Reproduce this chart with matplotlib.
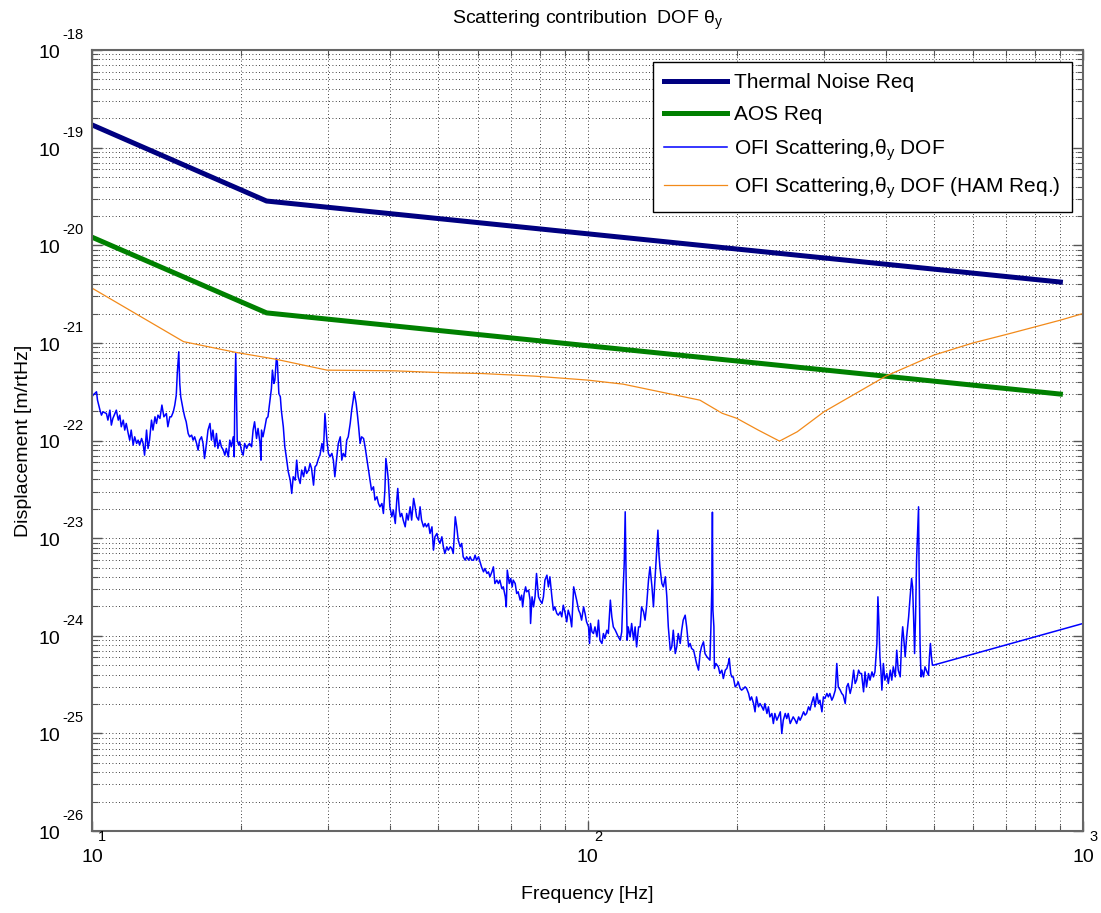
import numpy as np
import matplotlib
matplotlib.use("Agg")
import matplotlib.pyplot as plt
from matplotlib.ticker import LogLocator, NullFormatter

plt.rcParams["font.family"] = ["Liberation Sans", "DejaVu Sans"]

# requirement curves, frequency in Hz, displacement in m/rtHz
req_freq = [10.0, 22.5, 900.0]
thermal_req = [1.71e-19, 2.84e-20, 4.20e-21]
aos_req = [1.21e-20, 2.03e-21, 2.99e-22]

# OFI scattering with the HAM table requirement
ham_freq = [10.0, 15.3, 19.5, 23.5, 29.8, 40.6, 51.6, 61.0, 78.0, 100.0,
            118.0, 145.0, 168.6, 187.0, 200.0, 221.0, 244.0, 265.0, 300.0,
            400.0, 500.0, 600.0, 700.0, 800.0, 900.0, 1000.0]
ham_req = [3.64e-21, 1.03e-21, 8.0e-22, 6.8e-22, 5.26e-22, 5.18e-22, 4.94e-22,
           4.86e-22, 4.57e-22, 4.16e-22, 3.78e-22, 3.04e-22, 2.59e-22, 1.90e-22,
           1.69e-22, 1.28e-22, 9.86e-23, 1.23e-22, 1.97e-22, 4.57e-22, 7.5e-22,
           1.0e-21, 1.22e-21, 1.46e-21, 1.71e-21, 2.0e-21]

# measured OFI scattering, theta_y DOF: log10(f / Hz) and log10(asd / m/rtHz)
ofi_logf = [
    1.000, 1.002, 1.009, 1.011, 1.016, 1.019, 1.022, 1.029, 1.032, 1.036,
    1.039, 1.042, 1.049, 1.053, 1.056, 1.059, 1.063, 1.066, 1.069, 1.073,
    1.076, 1.079, 1.083, 1.086, 1.090, 1.093, 1.096, 1.100, 1.103, 1.106,
    1.110, 1.113, 1.116, 1.120, 1.123, 1.127, 1.130, 1.133, 1.137, 1.141,
    1.145, 1.150, 1.153, 1.157, 1.160, 1.164, 1.167, 1.170, 1.172, 1.175,
    1.177, 1.179, 1.184, 1.187, 1.190, 1.194, 1.197, 1.201, 1.204, 1.207,
    1.211, 1.214, 1.217, 1.221, 1.224, 1.227, 1.231, 1.234, 1.238, 1.241,
    1.244, 1.248, 1.251, 1.254, 1.258, 1.261, 1.265, 1.268, 1.271, 1.275,
    1.278, 1.281, 1.285, 1.287, 1.288, 1.290, 1.293, 1.296, 1.298, 1.302,
    1.305, 1.308, 1.312, 1.315, 1.318, 1.322, 1.325, 1.328, 1.332, 1.335,
    1.339, 1.341, 1.342, 1.345, 1.349, 1.352, 1.355, 1.359, 1.362, 1.364,
    1.367, 1.369, 1.372, 1.374, 1.377, 1.380, 1.382, 1.386, 1.389, 1.392,
    1.396,
    1.400, 1.403, 1.406, 1.410, 1.413, 1.416, 1.420, 1.423, 1.427,
    1.430, 1.433, 1.437, 1.440, 1.443, 1.447, 1.450, 1.453, 1.457, 1.460,
    1.464, 1.467, 1.470, 1.474, 1.477, 1.480, 1.484, 1.487, 1.490, 1.494,
    1.497, 1.501, 1.504, 1.507, 1.511, 1.514, 1.517, 1.521, 1.524, 1.527,
    1.529, 1.533, 1.536, 1.538, 1.541, 1.544, 1.548, 1.551, 1.554, 1.558,
    1.561, 1.564, 1.568, 1.571, 1.575, 1.578, 1.581, 1.585, 1.588, 1.591,
    1.593, 1.596, 1.598, 1.601, 1.605, 1.608, 1.612, 1.615, 1.617, 1.620,
    1.622, 1.625, 1.628, 1.632, 1.635, 1.638, 1.642, 1.645, 1.649, 1.652,
    1.655, 1.659, 1.662, 1.665, 1.669, 1.672, 1.675, 1.679, 1.682, 1.686,
    1.689, 1.692, 1.696, 1.699, 1.702, 1.706, 1.709, 1.712, 1.716, 1.719,
    1.723, 1.726, 1.729, 1.733, 1.736, 1.739, 1.743, 1.746, 1.749, 1.753,
    1.756, 1.760, 1.763, 1.766, 1.770, 1.773, 1.776, 1.780, 1.783,
    1.786, 1.790, 1.793, 1.797, 1.800, 1.803, 1.807, 1.810, 1.813, 1.817,
    1.820, 1.823, 1.827, 1.830, 1.834, 1.836, 1.838, 1.842, 1.845, 1.848,
    1.850, 1.854, 1.857, 1.860, 1.864, 1.867, 1.869, 1.872, 1.875, 1.877,
    1.881, 1.884, 1.885, 1.888, 1.891, 1.894, 1.897, 1.901, 1.904, 1.908,
    1.911, 1.914, 1.918, 1.921, 1.924, 1.928, 1.931, 1.934, 1.938, 1.941,
    1.945, 1.948, 1.951, 1.955, 1.958, 1.961, 1.965, 1.968, 1.972, 1.975,
    1.978, 1.982, 1.985, 1.988, 1.992, 1.995, 1.998, 2.002, 2.004, 2.006,
    2.009, 2.012, 2.015, 2.019, 2.022, 2.025, 2.029, 2.032, 2.035, 2.039,
    2.042, 2.046, 2.049, 2.052, 2.056, 2.059, 2.062, 2.066, 2.069, 2.072,
    2.074, 2.076, 2.078, 2.080, 2.082, 2.086, 2.089, 2.093, 2.096, 2.099,
    2.103, 2.106, 2.109, 2.113, 2.116, 2.119, 2.123, 2.126, 2.130, 2.133,
    2.136, 2.140, 2.142, 2.144, 2.146, 2.150, 2.153, 2.157, 2.160, 2.163,
    2.167,
    2.170, 2.173, 2.177, 2.180, 2.183, 2.187, 2.190, 2.193, 2.197,
    2.200, 2.204, 2.207, 2.210, 2.214, 2.217, 2.220, 2.224, 2.227, 2.230,
    2.234, 2.237, 2.241, 2.244, 2.247, 2.249, 2.251, 2.252, 2.253, 2.255,
    2.256, 2.259, 2.264, 2.267, 2.271, 2.274, 2.278, 2.281, 2.284, 2.286,
    2.289, 2.291, 2.294, 2.298, 2.301, 2.304, 2.308, 2.311, 2.315, 2.318,
    2.321, 2.325, 2.328, 2.331, 2.335, 2.338, 2.341, 2.345, 2.348, 2.352,
    2.355, 2.358, 2.362, 2.365, 2.368, 2.372, 2.375, 2.378, 2.382, 2.385,
    2.389, 2.392, 2.395, 2.399, 2.402, 2.405, 2.409, 2.412, 2.415, 2.419,
    2.422, 2.426, 2.429, 2.432, 2.436, 2.439, 2.442, 2.446, 2.449, 2.452,
    2.456, 2.459, 2.463, 2.466, 2.469, 2.473, 2.476, 2.479, 2.483, 2.486,
    2.489, 2.493, 2.496, 2.500, 2.503, 2.506, 2.510, 2.513, 2.516, 2.520,
    2.523, 2.526, 2.530, 2.533, 2.537, 2.540, 2.543, 2.547, 2.550,
    2.553, 2.557, 2.560, 2.563, 2.567, 2.570, 2.574, 2.577, 2.580, 2.584,
    2.586, 2.588, 2.590, 2.592, 2.594, 2.597, 2.600, 2.604, 2.607, 2.611,
    2.614, 2.617, 2.621, 2.624, 2.627, 2.631, 2.634, 2.636, 2.639, 2.641,
    2.644, 2.648, 2.651, 2.654, 2.656, 2.658, 2.660, 2.662, 2.664, 2.666,
    2.668, 2.669, 2.671, 2.673, 2.675, 2.678, 2.681, 2.685, 2.688, 2.690,
    2.692, 2.694, 2.696, 2.698, 3.000,
]
ofi_logasd = [
    -21.552, -21.535, -21.501, -21.586, -21.689, -21.740, -21.706, -21.723, -21.791, -21.689,
    -21.842, -21.774, -21.689, -21.791, -21.740, -21.859, -21.791, -21.893, -21.825, -21.928,
    -21.996, -21.893, -22.047, -21.962, -22.030, -21.996, -22.047, -21.979, -22.030, -22.150,
    -21.893, -22.081, -21.996, -21.791, -21.893, -21.757, -21.825, -21.740, -21.774, -21.637,
    -21.757, -21.723, -21.859, -21.757, -21.757, -21.706, -21.637, -21.535, -21.313, -21.091,
    -21.415, -21.552, -21.689, -21.757, -21.808, -21.928, -21.962, -21.945, -21.996, -21.962,
    -22.030, -22.098, -21.996, -21.962, -22.030, -22.184, -22.030, -21.893, -21.825, -21.996,
    -21.893, -22.064, -21.928, -22.081, -21.996, -22.064, -22.098, -22.150, -22.081, -22.167,
    -21.996, -22.064, -21.962, -22.167, -21.586, -21.108, -21.996, -22.047, -22.013, -22.115,
    -22.150, -22.030, -22.081, -22.047, -22.030, -22.064, -21.893, -21.808, -21.979, -21.876,
    -22.030, -22.201, -21.893, -21.962, -21.859, -21.774, -21.757, -21.586, -21.467, -21.279,
    -21.415, -21.381, -21.159, -21.193, -21.518, -21.552, -21.689, -21.859, -22.064, -22.167,
    -22.320,
    -22.406, -22.542, -22.371, -22.406, -22.201, -22.371, -22.440, -22.303, -22.371,
    -22.269, -22.337, -22.303, -22.235, -22.286, -22.457, -22.269, -22.252, -22.184, -22.149,
    -22.030, -22.115, -21.723, -21.996, -22.132, -22.166, -22.132, -22.201, -22.371, -22.166,
    -22.030, -21.962, -22.201, -22.132, -22.166, -21.996, -21.962, -21.825, -21.688, -21.586,
    -21.501, -21.620, -21.757, -21.859, -22.030, -21.962, -21.979, -22.064, -22.166, -22.303,
    -22.406, -22.508, -22.474, -22.610, -22.576, -22.645, -22.679, -22.645, -22.747, -22.508,
    -22.184, -22.303, -22.406, -22.679, -22.781, -22.713, -22.850, -22.610, -22.491, -22.713,
    -22.781, -22.747, -22.815, -22.884, -22.747, -22.815, -22.679, -22.815, -22.593, -22.679,
    -22.781, -22.815, -22.679, -22.815, -22.884, -22.850, -22.884, -22.850, -22.952, -22.884,
    -23.123, -22.986, -22.952, -23.020, -23.054, -22.986, -23.089, -23.157, -23.089, -23.123,
    -23.089, -23.106, -23.157, -22.781, -22.884, -23.020, -23.089, -23.054, -23.191, -23.225,
    -23.191, -23.225, -23.191, -23.225, -23.225, -23.174, -23.225, -23.191, -23.242,
    -23.294, -23.345, -23.311, -23.362, -23.345, -23.396, -23.345, -23.294, -23.465, -23.430,
    -23.465, -23.430, -23.516, -23.499, -23.601, -23.704, -23.328, -23.465, -23.413, -23.499,
    -23.430, -23.465, -23.567, -23.550, -23.635, -23.584, -23.704, -23.567, -23.499, -23.550,
    -23.533, -23.635, -23.874, -23.601, -23.704, -23.601, -23.362, -23.601, -23.635, -23.669,
    -23.601, -23.430, -23.379, -23.499, -23.396, -23.601, -23.738, -23.704, -23.772, -23.789,
    -23.755, -23.806, -23.687, -23.772, -23.857, -23.738, -23.806, -23.909, -23.499, -23.567,
    -23.635, -23.738, -23.772, -23.840, -23.704, -23.772, -23.857, -23.909, -24.079, -23.874,
    -23.960, -23.977, -23.909, -24.011, -23.840, -24.045, -24.079, -23.977, -24.028, -23.943,
    -23.977, -23.635, -23.806, -23.909, -23.943, -23.977, -24.011, -24.045, -23.960, -23.499,
    -23.260, -22.730, -23.465, -24.045, -23.909, -24.011, -23.874, -24.045, -23.909, -24.114,
    -23.909, -23.909, -23.704, -23.755, -23.840, -23.704, -23.430, -23.294, -23.499, -23.704,
    -23.430, -23.089, -22.918, -23.157, -23.294, -23.465, -23.499, -23.396, -23.601, -23.909,
    -24.148,
    -24.113, -23.943, -24.182, -24.113, -23.977, -24.079, -23.943, -23.840, -23.789,
    -23.908, -24.113, -24.079, -24.130, -24.147, -24.216, -24.284, -24.352, -24.182, -24.113,
    -24.062, -24.182, -24.216, -24.233, -24.250, -23.908, -23.464, -22.734, -23.738, -23.908,
    -24.335, -24.284, -24.318, -24.387, -24.352, -24.438, -24.352, -24.335, -24.284, -24.233,
    -24.387, -24.421, -24.421, -24.523, -24.506, -24.472, -24.540, -24.557, -24.540, -24.523,
    -24.540, -24.591, -24.660, -24.626, -24.694, -24.779, -24.626, -24.728, -24.694, -24.728,
    -24.762, -24.694, -24.796, -24.728, -24.831, -24.796, -24.899, -24.796, -24.865, -24.831,
    -24.779, -25.001, -24.865, -24.796, -24.848, -24.796, -24.899, -24.865, -24.831, -24.865,
    -24.899, -24.831, -24.865, -24.831, -24.779, -24.813, -24.796, -24.728, -24.762, -24.694,
    -24.626, -24.728, -24.591, -24.694, -24.660, -24.779, -24.626, -24.643, -24.591, -24.626,
    -24.591, -24.660, -24.626, -24.557, -24.284, -24.523, -24.557, -24.591, -24.609, -24.694,
    -24.523, -24.489, -24.591, -24.523, -24.352, -24.489, -24.455, -24.352, -24.387,
    -24.387, -24.574, -24.370, -24.523, -24.387, -24.455, -24.370, -24.421, -24.370, -24.079,
    -23.601, -23.874, -24.216, -24.352, -24.557, -24.284, -24.455, -24.387, -24.489, -24.352,
    -24.455, -24.318, -24.421, -24.148, -24.352, -24.421, -24.045, -23.908, -24.079, -24.216,
    -24.011, -23.806, -23.601, -23.413, -23.499, -23.806, -24.182, -23.806, -23.225, -22.952,
    -22.679, -23.260, -24.079, -24.421, -24.352, -24.421, -24.318, -24.370, -24.404, -24.216,
    -24.079, -24.216, -24.301, -24.301, -23.874,
]

ofi_freq = 10.0 ** np.array(ofi_logf)
ofi_asd = 10.0 ** np.array(ofi_logasd)

fig = plt.figure(figsize=(11.01, 9.13), dpi=100)
ax = fig.add_axes([0.0836, 0.0898, 0.9001, 0.8554])

ax.plot(req_freq, thermal_req, color="#000080", lw=3.6, label="Thermal Noise Req")
ax.plot(req_freq, aos_req, color="#008000", lw=3.6, label="AOS Req")
ax.plot(ofi_freq, ofi_asd, color="#0000ff", lw=1.1,
        label=r"OFI Scattering,$\mathregular{\theta_y}$ DOF")
ax.plot(ham_freq, ham_req, color="#f28a1a", lw=0.9,
        label=r"OFI Scattering,$\mathregular{\theta_y}$ DOF (HAM Req.)")

ax.set_xscale("log")
ax.set_yscale("log")
ax.set_xlim(10, 1000)
ax.set_ylim(1e-26, 1e-18)

# matlab-like box: dotted grid on every decade and sub-decade
ax.yaxis.set_major_locator(LogLocator(base=10, numticks=20))
ax.yaxis.set_minor_locator(LogLocator(base=10, subs=np.arange(2, 10), numticks=20))
ax.xaxis.set_minor_locator(LogLocator(base=10, subs=np.arange(2, 10), numticks=20))
for axis in (ax.xaxis, ax.yaxis):
    axis.set_major_formatter(NullFormatter())
    axis.set_minor_formatter(NullFormatter())
ax.grid(True, which="both", linestyle=(0, (1, 3)), color="k", lw=0.6)
ax.tick_params(which="both", direction="in", top=True, right=True, color="#555555")
ax.tick_params(which="major", length=7, width=1.0)
ax.tick_params(which="minor", length=4, width=0.8)
for sp in ax.spines.values():
    sp.set_color("#666666")
    sp.set_linewidth(1.5)

# decade labels drawn as "10" with a raised exponent
for e in range(-26, -17):
    ax.annotate("10", xy=(0, 10.0 ** e), xycoords=("axes fraction", "data"),
                xytext=(-23, -2.5), textcoords="offset points",
                ha="right", va="center", fontsize=14)
    ax.annotate(str(e), xy=(0, 10.0 ** e), xycoords=("axes fraction", "data"),
                xytext=(-21.5, 10.8), textcoords="offset points",
                ha="left", va="center", fontsize=10.5)
for e in range(1, 4):
    ax.annotate("10", xy=(10.0 ** e, 0), xycoords=("data", "axes fraction"),
                xytext=(0, -19), textcoords="offset points",
                ha="center", va="center", fontsize=14)
    ax.annotate(str(e), xy=(10.0 ** e, 0), xycoords=("data", "axes fraction"),
                xytext=(4.5, -4.5), textcoords="offset points",
                ha="left", va="center", fontsize=10.5)

ax.set_title(r"Scattering contribution  DOF $\mathregular{\theta_y}$", fontsize=14, pad=19)
ax.set_xlabel("Frequency [Hz]", fontsize=14, labelpad=36)
ax.set_ylabel("Displacement [m/rtHz]", fontsize=14, labelpad=40)

leg = ax.legend(loc="upper right", bbox_to_anchor=(0.989, 0.985), fontsize=15,
                frameon=True, fancybox=False, edgecolor="k", framealpha=1,
                handlelength=3.0, handletextpad=0.35, labelspacing=0.62,
                borderpad=0.55, borderaxespad=0)
leg.get_frame().set_linewidth(1.0)

fig.savefig("out.png", dpi=100)
